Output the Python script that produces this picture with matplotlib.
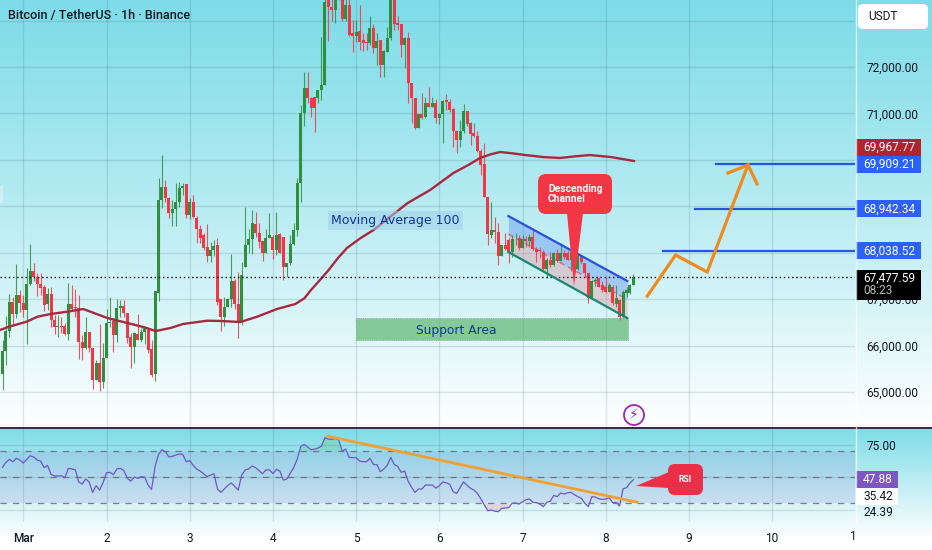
import numpy as np
import matplotlib
matplotlib.use('Agg')
import matplotlib.pyplot as plt
from matplotlib.patches import FancyBboxPatch, Polygon, Rectangle, Circle

plt.rcParams['font.family'] = ['Roboto', 'DejaVu Sans']

# hourly candles, first one is Feb 29 18:00
opens = [65390,65890,66320,66945,66680,67090,66920,66770,67330,67610,
         67480,67330,67270,66895,67110,66550,66390,66420,66420,66250,
         66895,66820,66800,66083,65940,66300,65940,65260,65630,65220,
         65724,66478,66536,66227,66800,66850,66708,66191,65961,66248,
         66119,66299,66335,65918,65387,67140,69135,69422,69170,68860,
         68950,69100,69385,69470,68810,69100,68750,68520,68380,68115,
         67930,68060,68160,66995,66622,66837,66995,67397,66895,66514,
         67700,68165,68288,68618,68417,68260,68000,68310,68330,68058,
         68400,68330,67700,67770,68187,68488,69494,71002,71540,71325,
         71360,71325,71500,71610,73440,73300,73230,73500,73700,73025,
         73335,72725,72670,72780,72580,72545,72510,72833,72400,72580,
         72043,72330,72617,73443,72940,72926,72470,72617,71648,71325,
         70679,70987,70915,71232,71130,71217,70894,70987,71289,71253,
         71088,70628,70427,70628,71059,70800,70571,70514,70198,69910,
         69207,68381,68489,68453,67929,68165,68270,68020,68290,68310,
         68094,68290,68260,68345,68073,68060,68020,67642,67842,67735,
         67986,67828,68000,67990,67842,68020,67640,67900,67770,67555,
         67017,67397,67447,67300,67268,67160,67268,66895,66981,66608,
         67125,67125,67304]
closes = [65890,66320,66945,66680,67090,66920,66770,67330,67610,67480,
          67330,67230,66870,67110,66550,66390,66420,66400,66250,66895,
          66780,66800,66083,65940,66300,65940,65260,65630,65220,65724,
          66480,66514,66227,66800,66850,66708,66154,65961,66263,66119,
          66299,66370,65904,65365,67182,69135,69422,69170,68860,68950,
          69100,69385,69430,68810,69100,68770,68510,68310,68094,67930,
          68050,68140,66945,66622,66837,66995,67397,66895,66514,67520,
          68165,68288,68632,68417,68237,68000,68310,68380,68058,68380,
          68000,67700,67770,68187,68488,69494,71002,71540,71325,71110,
          71110,71500,71610,73407,73300,73230,73443,73700,73025,73335,
          72690,72670,72760,72545,72520,72510,72833,72400,72567,72043,
          72350,72617,73443,72926,72905,72470,72617,71648,71325,70679,
          70987,70894,71232,71130,71217,70894,70987,71275,71253,71074,
          70628,70427,70628,71059,70772,70557,70514,70198,69889,69207,
          68400,68489,68440,67929,68165,68073,68020,68290,68300,68094,
          68290,68260,68345,68073,68020,68030,67642,67842,67735,67986,
          67828,68000,67900,67842,68020,67640,67930,67800,67555,67017,
          67397,67420,67268,67200,67160,67304,66910,67017,66622,67160,
          67196,67304,67478]
highs = [66130,66640,67120,67040,67756,67200,67090,67680,68190,67785,
         67555,67555,67300,67230,67270,66660,66660,66620,66490,67340,
         67300,67210,67090,66220,66620,66300,65940,65690,66460,66047,
         66780,67038,66586,66995,66980,66980,66708,66263,66299,66690,
         66370,66421,66392,66119,67182,69600,70104,69566,69190,69135,
         69510,69530,69510,69490,69170,69240,68780,68600,68430,68620,
         68240,68270,68310,66995,67038,67017,67964,67426,67591,67806,
         68990,68500,68920,68880,68650,68260,68500,68850,68380,68880,
         68420,68330,67770,68380,68630,69600,71181,71900,71900,71360,
         71360,71500,72650,73500,73500,73500,73500,73900,73800,73500,
         73500,73010,73010,73335,72725,72740,73100,72925,72725,72580,
         72365,72870,73500,73500,73100,72926,72640,72760,71662,71325,
         70990,71433,71361,71576,71361,71303,71000,71289,71418,71303,
         71110,70643,70858,71203,71059,70822,70800,70628,70226,70356,
         69207,69100,68775,68632,68165,68417,68310,68381,68417,68381,
         68381,68350,68400,68525,68130,68115,68058,67878,68020,68020,
         68073,68200,68058,68058,68058,68058,67990,67950,67770,67555,
         67420,67447,67450,67400,67480,67350,67300,67304,66995,67196,
         67260,67330,67541]
lows = [65040,65580,66180,66420,66590,66730,66620,66030,67300,67380,
        67070,67090,66750,66765,66390,66250,66190,66260,66230,66120,
        66765,66620,65703,65690,65925,65870,65057,65260,65030,65078,
        65724,66390,65868,66083,66620,66620,66047,65510,65631,66119,
        66083,66033,65846,65315,65243,66970,68955,69100,68740,68575,
        68570,68990,69240,68740,68730,68740,68216,68210,68060,67810,
        67810,67930,66873,66320,66421,66823,66837,66780,66155,66442,
        67700,67985,67980,68330,68094,67828,68000,68310,67857,67950,
        67985,67410,67480,67735,68165,68350,69100,70730,71217,70930,
        70607,71230,71290,71610,72565,73000,72940,73450,73000,73000,
        72670,72330,72545,72365,72350,72365,72470,72295,72043,71790,
        71777,72330,72580,72797,72800,72220,71971,71217,70800,70657,
        70680,70873,70894,71130,71130,70786,70772,70356,71074,71038,
        70284,70155,70284,70586,70729,70320,70499,70176,69673,69193,
        68166,68309,68200,67735,67929,68058,67770,67914,68165,68058,
        68094,68120,68120,68058,67810,67878,67627,67447,67700,67720,
        67806,67828,67857,67842,67612,67590,67620,67760,67500,66910,
        67000,67290,67254,67160,67125,67150,66870,66823,66550,66590,
        67050,67110,67300]

# RSI, one per candle
rsi = [57.6,61.5,63.8,62.0,64.6,63.3,61.0,63.8,66.6,65.6,63.3,62.5,57.4,59.2,52.3,51.0,51.0,51.2,49.7,56.9,
       56.4,55.8,46.4,44.8,48.7,46.4,38.4,43.5,40.2,45.8,53.5,53.8,52.0,56.4,56.9,55.3,49.2,47.1,50.2,49.2,
       50.5,50.2,44.0,40.7,58.1,67.6,71.2,69.7,65.6,66.1,67.1,67.9,67.6,62.0,62.8,59.2,56.4,54.8,52.8,50.5,
       51.7,52.8,41.0,38.4,41.0,43.8,45.6,43.0,40.2,51.7,55.6,56.4,58.7,57.4,55.1,52.8,55.6,55.8,52.8,56.1,
       54.8,47.9,48.7,53.0,57.4,64.0,73.5,75.3,73.5,71.2,71.7,72.5,74.0,80.5,79.4,79.2,79.9,78.7,70.2,71.7,
       65.3,65.1,65.1,62.5,62.0,62.0,64.6,59.9,59.7,54.3,56.4,59.2,65.3,59.9,58.4,53.8,54.8,47.1,42.3,38.4,
       41.0,41.0,44.0,44.0,44.0,41.7,43.5,46.4,45.8,44.6,38.9,37.6,42.0,46.4,44.0,41.5,40.2,37.6,33.3,28.7,
       24.3,24.8,24.0,23.5,26.1,26.4,26.6,30.0,30.2,29.4,31.2,32.8,33.3,30.7,30.5,29.4,27.4,30.7,31.5,36.1,
       35.1,37.9,37.1,38.1,38.4,36.6,35.1,33.8,30.0,27.4,35.1,34.8,33.5,33.0,33.3,34.3,30.5,30.7,27.9,41.2,
       42.0,45.6,48.2]

# moving average 100
ma_days = [-0.28,-0.17,0.04,0.17,0.33,0.53,0.72,0.84,1.01,1.25,1.44,1.59,1.77,1.92,2.21,2.37,2.61,
           2.81,3.05,3.27,3.38,3.45,3.56,3.67,3.78,3.89,4.05,4.21,4.40,4.62,4.89,5.17,5.35,5.49,5.62,5.73,
           5.88,6.03,6.25,6.45,6.63,6.81,7.06,7.34]
ma_vals = [66335,66406,66514,66621,66680,66729,66787,66707,66593,66486,66400,66313,66378,66464,66535,66529,66507,
           66621,66787,66895,67020,67181,67400,67627,67880,68101,68310,68489,68760,69070,69350,69717,69890,70040,70120,70169,
           70140,70104,70060,70040,70075,70104,70061,69975]

price_ticks = [73000,72000,71000,70000,69000,68000,67000,66000,65000]
shown_ticks = [72000,71000,67000,66000,65000]
day_labels = ['Mar','2','3','4','5','6','7','8','9','10']

last_price = 67477.59
ma_last = 69967.77
target_levels = [68038.52,68942.34,69909.21]
target_starts = [7.69,8.07,8.32]

# drawings
plan_days = [7.50,7.84,8.22,8.71]
plan_prices = [67067,67950,67584,69889]
head_days = [8.47,8.71,8.82]
head_prices = [69717,69889,69480]
rsi_trend_days = [3.66,7.38]
rsi_trend_vals = [81.6,30.8]

W, H = 932, 550
PANEL_R, MAIN_B, RSI_T, RSI_B = 855, 427, 428, 522
PMAX = 73443
PMIN = PMAX - MAIN_B * 21.54
X0, DAY = 23.3, 83.2
RMAX = 50 + (477.3 - RSI_T) / 1.3
RMIN = 50 - (RSI_B - 477.3) / 1.3

def py(p):
    return (PMAX - p) / (PMAX - PMIN) * MAIN_B

fig = plt.figure(figsize=(W / 100, H / 100), dpi=100)

# background gradient, restarted for the RSI pane
top = np.array([125, 220, 232]) / 255
t = np.zeros(H)
t[:MAIN_B] = np.linspace(0, 1, MAIN_B) ** 1.1
t[MAIN_B:] = np.clip(np.linspace(0, 1, 112), 0, 1).tolist() + [1.0] * (H - MAIN_B - 112)
img = top[None, :] + (1 - top[None, :]) * t[:, None]
bg = fig.add_axes([0, 0, 1, 1], zorder=0)
bg.imshow(img[:, None, :], aspect='auto', extent=(0, W, H, 0))
bg.axis('off')

ax = fig.add_axes([0, 1 - MAIN_B / H, PANEL_R / W, MAIN_B / H], zorder=1)
ax.patch.set_alpha(0)
rs = fig.add_axes([0, 1 - RSI_B / H, PANEL_R / W, (RSI_B - RSI_T) / H], zorder=1)
rs.patch.set_alpha(0)
xlim = (-X0 / DAY, (PANEL_R - X0) / DAY)

days = (np.arange(len(closes)) - 6) / 24
o, c, h, l = map(np.array, (opens, closes, highs, lows))
up = c >= o
GREEN, RED = '#2f8f3f', '#f23645'

for a in (ax, rs):
    a.set_xlim(*xlim)
    a.set_xticks(range(10))
    a.grid(True, axis='x', color='#2a4a5a', alpha=0.14, lw=1)
    a.set_axisbelow(True)
    for s in a.spines.values():
        s.set_visible(False)
    a.tick_params(length=0, labelsize=8.6, colors='#131722')

ax.set_ylim(PMIN, PMAX)
ax.set_yticks(price_ticks)
ax.set_yticklabels([f'{p:,.2f}' if p in shown_ticks else '' for p in price_ticks])
ax.yaxis.tick_right()
ax.tick_params(axis='y', pad=8)
ax.grid(True, axis='y', color='#2a4a5a', alpha=0.14, lw=1)
ax.tick_params(axis='x', labelbottom=False)

ax.vlines(days, l, h, colors=[GREEN if u else RED for u in up], lw=0.8, alpha=0.85, zorder=3)
ax.bar(days, np.abs(c - o), bottom=np.minimum(o, c), width=0.036,
       color=[GREEN if u else RED for u in up], zorder=4)
ax.plot(ma_days, ma_vals, color='#a8283f', lw=1.7, zorder=5, solid_joinstyle='round')
ax.axhline(last_price, color='black', lw=1, ls=(0, (1, 2)), zorder=5)

# channel
chan_x = np.array([5.83, 7.26])
chan_top = np.array([68790, 67390])
chan_mid = np.array([68400, 66990])
chan_bot = np.array([68015, 66590])
ax.fill_between(chan_x, chan_mid, chan_top, color='#5b8def', alpha=0.4, lw=0, zorder=2)
ax.fill_between(chan_x, chan_bot, chan_mid, color='#e8808c', alpha=0.33, lw=0, zorder=2)
ax.plot(chan_x, chan_top, color='#2a4fe0', lw=1.6, zorder=6)
ax.plot(chan_x, chan_bot, color='#14896e', lw=1.6, zorder=6)
ax.plot(chan_x, chan_mid, color='#e0405a', lw=1, ls=(0, (4, 3)), alpha=0.7, zorder=3)

# support area
ax.add_patch(Rectangle((4.0, 66119), 3.27, 474, facecolor='#4fae5f', alpha=0.62,
                       edgecolor='#3a8a4c', lw=0.6, ls=':', zorder=2))
ax.text(5.2, 66330, 'Support Area', color='#0e3a96', fontsize=8.8, family='DejaVu Sans',
        ha='center', va='center', zorder=7)
ax.text(4.47, 68700, 'Moving Average 100', color='#10349a', fontsize=9, family='DejaVu Sans',
        ha='center', va='center', zorder=7,
        bbox=dict(boxstyle='square,pad=0.25', fc='#9fd0ea', ec='none', alpha=0.55))

# target levels and projected path
for lvl, start in zip(target_levels, target_starts):
    ax.plot([start, xlim[1]], [lvl, lvl], color='#2457e0', lw=1.6, zorder=5)
ax.plot(plan_days, plan_prices, color='#ee8a1e', lw=2.3, solid_joinstyle='miter', zorder=6)
ax.plot(head_days, head_prices, color='#ee8a1e', lw=2.3, solid_joinstyle='miter', zorder=6)

# RSI pane
rs.set_ylim(RMIN, RMAX)
rs.set_yticks([75])
rs.set_yticklabels(['75.00'])
rs.yaxis.tick_right()
rs.tick_params(axis='y', pad=8)
rs.set_xticklabels(day_labels)
rs.tick_params(axis='x', pad=7)
rs.get_xticklabels()[0].set_fontweight('medium')
rs.axhspan(30, 70, color='#7e57c2', alpha=0.13, lw=0)
for g in (75, 50, 25):
    rs.axhline(g, color='#2a4a5a', alpha=0.14, lw=1)
for d in (70, 50, 30):
    rs.axhline(d, color='#5f6370', alpha=0.8, lw=0.9, ls=(0, (5, 5)))
rs.plot(days, rsi, color='#7056c4', lw=0.9, zorder=4)
rs.fill_between(days, 70, rsi, where=np.array(rsi) > 70, color='#4caf50', alpha=0.2, lw=0)
rs.fill_between(days, 30, rsi, where=np.array(rsi) < 30, color='#f23645', alpha=0.15, lw=0)
rs.plot(rsi_trend_days, rsi_trend_vals, color='#f0a030', lw=2, zorder=5)

# overlay in pixel coordinates for labels and callouts
ov = fig.add_axes([0, 0, 1, 1], zorder=3)
ov.set_xlim(0, W)
ov.set_ylim(H, 0)
ov.axis('off')
ov.plot([0, W], [427.5, 427.5], color='#25343a', lw=1.4)
ov.plot([PANEL_R + 0.5] * 2, [0, 522], color='white', lw=1, alpha=0.7)

ov.text(8, 16, 'Bitcoin / TetherUS · 1h · Binance', color='#131722', fontsize=9.1,
        fontweight='medium', va='center')
ov.add_patch(Rectangle((0, 186), 3, 17, fc='#d5ecf5', ec='none'))

def round_box(x0, y0, x1, y1, r, color):
    ov.add_patch(FancyBboxPatch((x0, y0), x1 - x0, y1 - y0, boxstyle=f'round,pad=0,rounding_size={r}',
                                fc=color, ec='none'))

round_box(858, 4, 928, 29, 5, 'white')
ov.text(868, 17, 'USDT', color='#131722', fontsize=8.6, va='center')

def price_box(y, text, color, fg='white', h=17, w=65):
    ov.add_patch(Rectangle((856, y - h / 2), w, h, fc=color, ec='none'))
    ov.text(863, y, text, color=fg, fontsize=8.6, va='center')

price_box(147.5, f'{ma_last:,.2f}', '#b2222f')
for lvl in target_levels:
    price_box(py(lvl), f'{lvl:,.2f}', '#2962ff')
ov.add_patch(Rectangle((856, 270), 65, 30, fc='black', ec='none'))
ov.text(863, 278.5, f'{last_price:,.2f}', color='white', fontsize=8.6, va='center')
ov.text(863, 291, '08:23', color='#b8b8b8', fontsize=8.6, va='center')

# descending channel callout
round_box(538, 174, 612, 214, 8, RED)
ov.add_patch(Polygon([(567, 213), (583, 213), (574, 286)], fc=RED, ec='none'))
ov.text(548, 194, 'Descending\nChannel', color='white', fontsize=7.4, fontweight='bold',
        va='center', linespacing=1.05)

# rsi callout
round_box(668, 464, 703, 495, 7, '#ea2f48')
ov.add_patch(Polygon([(636, 486), (669, 472), (669, 488)], fc='#ea2f48', ec='none'))
ov.text(685, 479, 'RSI', color='white', fontsize=6.2, fontweight='bold', ha='center', va='center')

# rsi values on the scale
ov.add_patch(Rectangle((856, 471), 42, 17, fc='#7e57c2', ec='none'))
ov.text(863, 479.5, '47.88', color='white', fontsize=8.6, va='center')
ov.add_patch(Rectangle((856, 488), 42, 17, fc='white', ec='none'))
ov.text(863, 496.5, '35.42', color='#131722', fontsize=8.6, va='center')
ov.text(863, 513, '24.39', color='#131722', fontsize=8.6, va='center')
ov.text(852, 536, '1', color='#131722', fontsize=8.6, ha='center', va='center')

# lightning marker
ov.add_patch(Circle((634, 415), 10, fc='#f2fbfc', ec='#9c27b0', lw=1.3))
ov.text(634, 415, '\u26a1', color='#9c27b0', fontsize=10, ha='center', va='center',
        family=['DejaVu Sans'])

plt.savefig('out.png', dpi=100)
